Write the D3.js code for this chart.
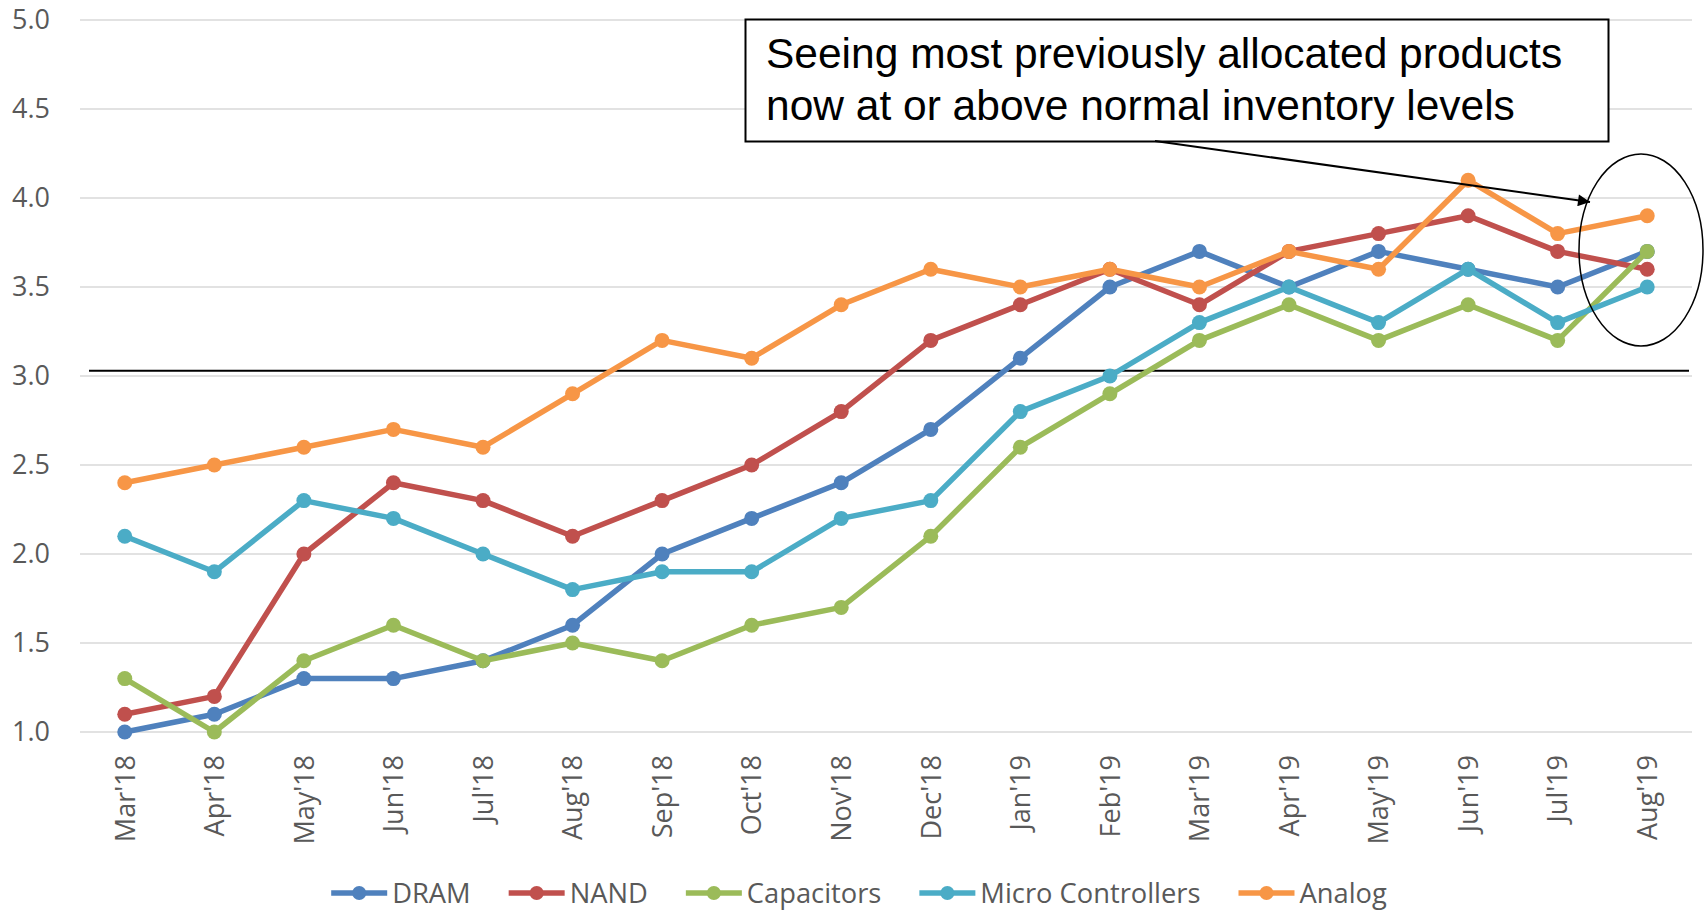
<!DOCTYPE html>
<html>
<head>
<meta charset="utf-8">
<script src="https://cdn.jsdelivr.net/npm/d3@7"></script>
<style>
  html, body { margin: 0; padding: 0; background: #fff; }
  svg { display: block; }
</style>
</head>
<body>
<svg id="chart" width="1705" height="911"></svg>
<script>
// Monthly lead-time / inventory index by component family
const months = ["Mar'18","Apr'18","May'18","Jun'18","Jul'18","Aug'18","Sep'18","Oct'18","Nov'18","Dec'18",
                "Jan'19","Feb'19","Mar'19","Apr'19","May'19","Jun'19","Jul'19","Aug'19"];

const dram       = [1.0,1.1,1.3,1.3,1.4,1.6,2.0,2.2,2.4,2.7,3.1,3.5,3.7,3.5,3.7,3.6,3.5,3.7];
const nand       = [1.1,1.2,2.0,2.4,2.3,2.1,2.3,2.5,2.8,3.2,3.4,3.6,3.4,3.7,3.8,3.9,3.7,3.6];
const capacitors = [1.3,1.0,1.4,1.6,1.4,1.5,1.4,1.6,1.7,2.1,2.6,2.9,3.2,3.4,3.2,3.4,3.2,3.7];
const microCtrl  = [2.1,1.9,2.3,2.2,2.0,1.8,1.9,1.9,2.2,2.3,2.8,3.0,3.3,3.5,3.3,3.6,3.3,3.5];
const analog     = [2.4,2.5,2.6,2.7,2.6,2.9,3.2,3.1,3.4,3.6,3.5,3.6,3.5,3.7,3.6,4.1,3.8,3.9];

const seriesNames = ["DRAM","NAND","Capacitors","Micro Controllers","Analog"];
const seriesValues = [dram, nand, capacitors, microCtrl, analog];
const seriesColors = ["#4F81BD","#C0504D","#9BBB59","#4BACC6","#F79646"];

const yTicks = [1.0,1.5,2.0,2.5,3.0,3.5,4.0,4.5,5.0];
const thresholdLevel = 3.03;
const noteLines = ["Seeing most previously allocated products", "now at or above normal inventory levels"];

const svg = d3.select("#chart");
const plot = { left: 80, right: 1692, top: 20, bottom: 732 };

const x = d3.scaleBand().domain(months).range([plot.left, plot.right]);
const y = d3.scaleLinear().domain([1, 5]).range([plot.bottom, plot.top]);
const cx = m => x(m) + x.bandwidth() / 2;

const textGrey = "#595959";

// horizontal gridlines
svg.append("g")
  .selectAll("line")
  .data(yTicks)
  .join("line")
  .attr("x1", plot.left).attr("x2", plot.right)
  .attr("y1", d => y(d)).attr("y2", d => y(d))
  .attr("stroke", "#d9d9d9").attr("stroke-width", 1.5);

// y axis labels
const yAxis = d3.axisLeft(y).tickValues(yTicks).tickFormat(d3.format(".1f")).tickSize(0).tickPadding(30);
const yg = svg.append("g").attr("transform", `translate(${plot.left},0)`).call(yAxis);
yg.select(".domain").remove();
yg.selectAll("text")
  .attr("font-family", "Open Sans").attr("font-size", 27).attr("fill", textGrey);

// x axis labels (rotated)
const xAxis = d3.axisBottom(x).tickSize(0).tickPadding(0);
const xg = svg.append("g").attr("transform", `translate(0,${plot.bottom})`).call(xAxis);
xg.select(".domain").remove();
xg.selectAll("text")
  .attr("font-family", "Open Sans").attr("font-size", 27).attr("fill", textGrey)
  .attr("text-anchor", "end")
  .attr("transform", "translate(0,23) rotate(-90)")
  .attr("x", 0).attr("y", 0).attr("dy", "0.36em");

// threshold line
svg.append("line")
  .attr("x1", 89).attr("x2", 1689)
  .attr("y1", y(thresholdLevel)).attr("y2", y(thresholdLevel))
  .attr("stroke", "#000").attr("stroke-width", 2);

// series lines and markers
const line = d3.line().x((d, i) => cx(months[i])).y(d => y(d));
seriesValues.forEach((vals, s) => {
  const g = svg.append("g");
  g.append("path")
    .attr("d", line(vals))
    .attr("fill", "none")
    .attr("stroke", seriesColors[s])
    .attr("stroke-width", 5.5)
    .attr("stroke-linejoin", "round");
  g.selectAll("circle")
    .data(vals)
    .join("circle")
    .attr("cx", (d, i) => cx(months[i]))
    .attr("cy", d => y(d))
    .attr("r", 7.5)
    .attr("fill", seriesColors[s]);
});

// callout box
const note = svg.append("g");
note.append("rect")
  .attr("x", 745.5).attr("y", 19.5).attr("width", 863).attr("height", 122)
  .attr("fill", "#fff").attr("stroke", "#000").attr("stroke-width", 2);
note.selectAll("text")
  .data(noteLines)
  .join("text")
  .attr("x", 766)
  .attr("y", (d, i) => 68 + i * 52)
  .attr("font-family", "Liberation Sans, Arial, sans-serif")
  .attr("font-size", 42.5)
  .attr("fill", "#000")
  .text(d => d);

// arrow from callout to last months
svg.append("defs").append("marker")
  .attr("id", "arrowHead")
  .attr("viewBox", "0 0 10 10")
  .attr("refX", 10).attr("refY", 5)
  .attr("markerWidth", 7).attr("markerHeight", 6)
  .attr("markerUnits", "strokeWidth")
  .attr("orient", "auto")
  .append("path").attr("d", "M0,0 L10,5 L0,10 Z").attr("fill", "#000");
svg.append("line")
  .attr("x1", 1155).attr("y1", 141)
  .attr("x2", 1590).attr("y2", 202)
  .attr("stroke", "#000").attr("stroke-width", 2)
  .attr("marker-end", "url(#arrowHead)");

// ellipse highlighting the latest month
svg.append("ellipse")
  .attr("cx", 1641).attr("cy", 250).attr("rx", 62).attr("ry", 96)
  .attr("fill", "none").attr("stroke", "#000").attr("stroke-width", 1.5);

// legend
const legend = svg.append("g");
const items = legend.selectAll("g").data(seriesNames).join("g");
items.append("line")
  .attr("x1", 0).attr("x2", 56).attr("y1", 0).attr("y2", 0)
  .attr("stroke", (d, i) => seriesColors[i]).attr("stroke-width", 5.5);
items.append("circle")
  .attr("cx", 28).attr("cy", 0).attr("r", 7)
  .attr("fill", (d, i) => seriesColors[i]);
items.append("text")
  .attr("x", 61).attr("y", 0).attr("dy", "0.35em")
  .attr("font-family", "Open Sans").attr("font-size", 27.3).attr("fill", textGrey)
  .text(d => d);
let offset = 0;
const widths = [];
items.each(function () {
  const w = 61 + this.querySelector("text").getComputedTextLength();
  widths.push(w);
});
const gap = 38;
const total = d3.sum(widths) + gap * (widths.length - 1);
let startX = 859 - total / 2;
items.attr("transform", (d, i) => {
  const t = `translate(${startX + offset},893)`;
  offset += widths[i] + gap;
  return t;
});
</script>
</body>
</html>
